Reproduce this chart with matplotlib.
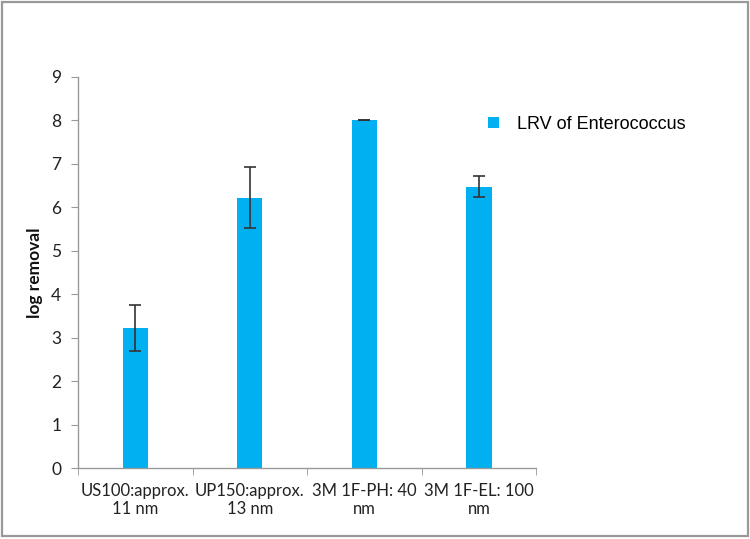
import matplotlib
matplotlib.use("Agg")
import matplotlib.pyplot as plt
from matplotlib.patches import Rectangle
import numpy as np

categories = ["US100:approx.\n11 nm", "UP150:approx.\n13 nm", "3M 1F-PH: 40\nnm", "3M 1F-EL: 100\nnm"]
values = [3.22, 6.22, 8.0, 6.47]
errors = [0.52, 0.70, 0.0, 0.24]
series_name = "LRV of Enterococcus"
yticks = list(range(0, 10))

fig = plt.figure(figsize=(7.5, 5.39), dpi=100)
ax = fig.add_axes([0.104, 0.1317, 0.611, 0.726])

x = np.arange(len(categories))
ax.bar(x, values, width=0.22, color="#00B0F0", label=series_name, zorder=2)
ax.errorbar(x, values, yerr=errors, fmt="none", ecolor="#333333", elinewidth=1.2,
            capsize=4, capthick=1.2, zorder=3)

ax.set_xlim(-0.5, len(categories) - 0.5)
ax.set_ylim(0, 9)
ax.set_yticks(yticks)
ax.set_yticklabels([str(t) for t in yticks], fontsize=12.5, family="Lato", color="#222222")
ax.set_xticks(x)
ax.set_xticklabels(categories, fontsize=12, family="Lato", color="#222222", linespacing=1.15)
ax.set_xticks(np.arange(-0.5, len(categories), 1.0), minor=True)
ax.tick_params(axis="x", which="major", length=0, pad=11)
ax.tick_params(axis="x", which="minor", length=5, color="#999999", direction="out")
ax.tick_params(axis="y", length=5, color="#999999", direction="out", pad=7)
for s in ["top", "right"]:
    ax.spines[s].set_visible(False)
for s in ["left", "bottom"]:
    ax.spines[s].set_color("#999999")
    ax.spines[s].set_linewidth(1.0)

ax.set_ylabel("log removal", fontsize=12.5, fontweight="bold", family="Lato", color="#111111")
ax.yaxis.set_label_coords(-0.076, 0.5)

leg = fig.legend(loc="upper left", bbox_to_anchor=(0.629, 0.815), frameon=False,
                 prop={"family": "Liberation Sans", "size": 13},
                 handlelength=0.6, handleheight=0.6, handletextpad=1.0)

fig.patches.append(Rectangle((0.003, 0.006), 0.994, 0.99, transform=fig.transFigure,
                             fill=False, edgecolor="#999999", linewidth=1.6))

fig.savefig("out.png", dpi=100)
